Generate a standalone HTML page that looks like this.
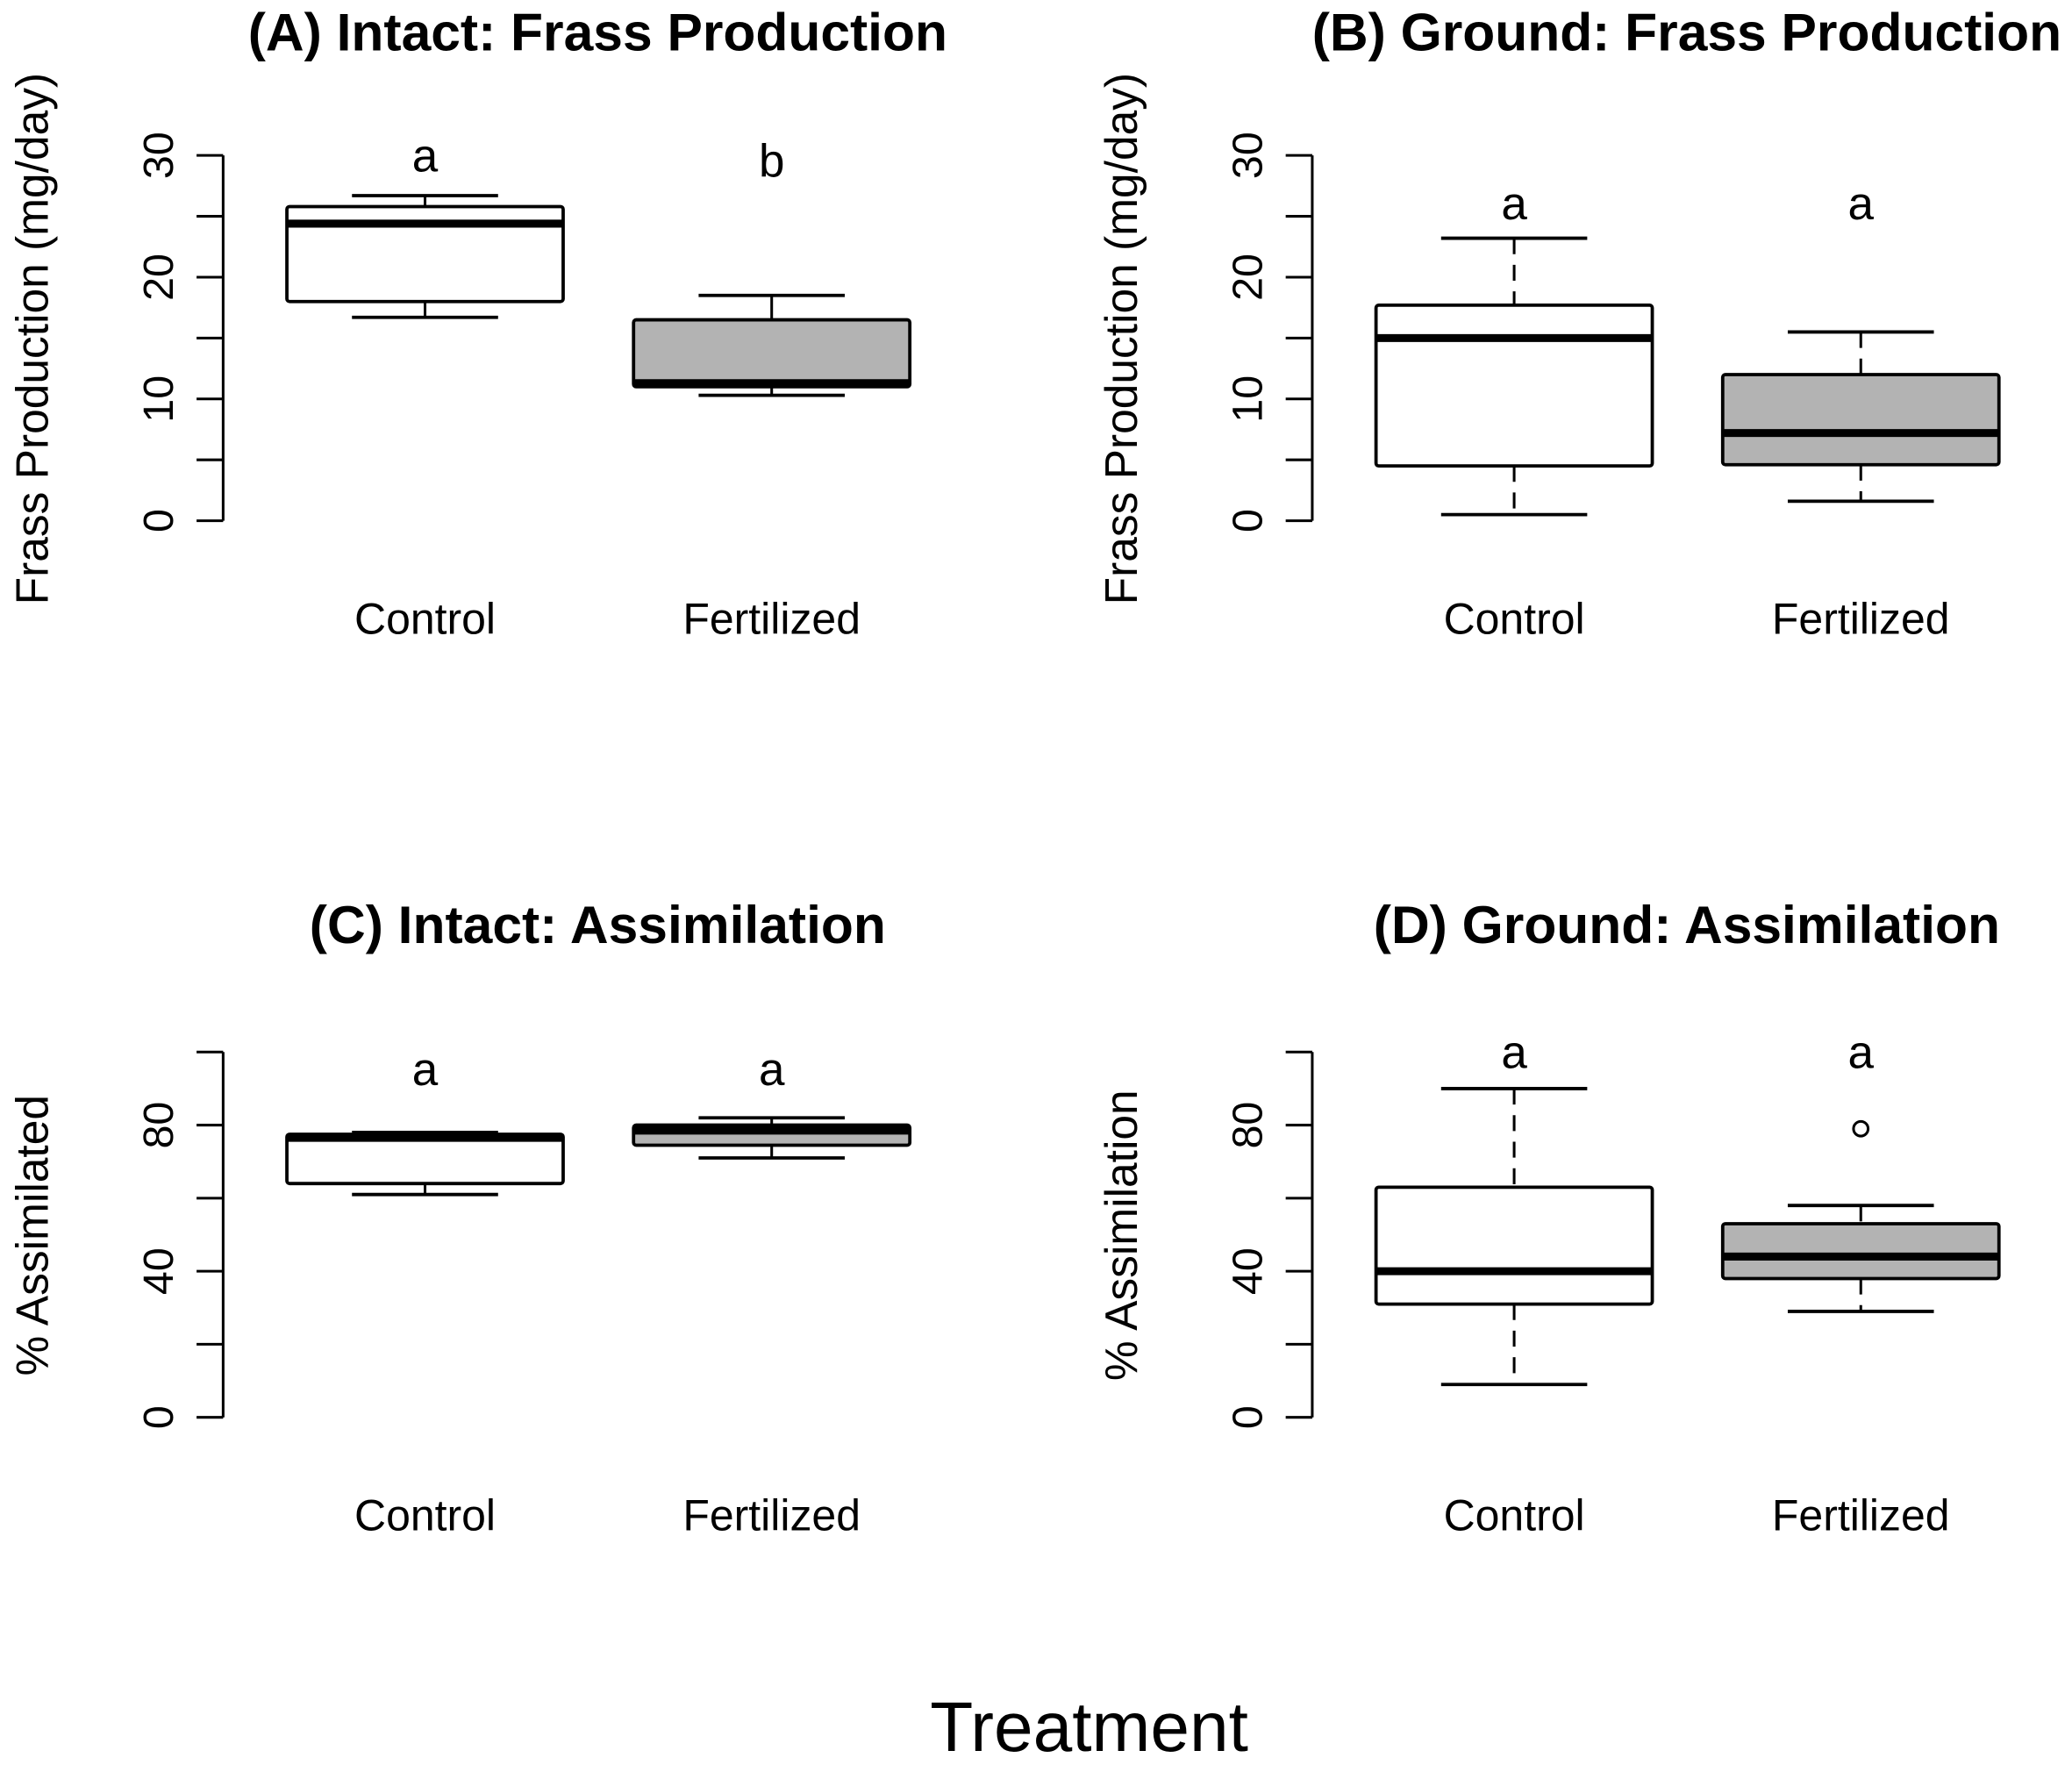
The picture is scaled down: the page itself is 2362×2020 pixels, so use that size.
<!DOCTYPE html>
<html><head><meta charset="utf-8">
<style>
html,body{margin:0;padding:0;background:#fff;}
svg{display:block;}
text{font-family:"Liberation Sans",sans-serif;fill:#000;}
</style></head>
<body>
<svg id="chart" width="2362" height="2020" viewBox="0 0 1560 1334" preserveAspectRatio="none" xmlns="http://www.w3.org/2000/svg">
<rect width="1560" height="1334" fill="#fff"/>
<text x="820" y="1318" font-size="53" text-anchor="middle">Treatment</text>
</svg>
<script>
const categories = ["Control", "Fertilized"];
const panelTitles = ["(A) Intact: Frass Production", "(B) Ground: Frass Production", "(C) Intact: Assimilation", "(D) Ground: Assimilation"];
const yTitles = ["Frass Production  (mg/day)", "Frass Production  (mg/day)", "% Assimilated", "% Assimilation"];
// [low whisker, Q1, median, Q3, high whisker] per category
const statsA = [[16.7, 18, 24.4, 25.8, 26.7], [10.3, 11, 11.3, 16.5, 18.5]];
const statsB = [[0.5, 4.5, 15, 17.7, 23.2], [1.6, 4.6, 7.2, 12, 15.5]];
const statsC = [[61, 64, 76.5, 77.5, 78], [71, 74.5, 78.5, 80, 82]];
const statsD = [[9, 31, 40, 63, 90], [29, 38, 44, 53, 58]];
const outliersD = [[], [79]];
const lettersA = ["a", "b"];
const lettersB = ["a", "a"];
const lettersC = ["a", "a"];
const lettersD = ["a", "a"];
const ticksFrass = [0, 5, 10, 15, 20, 25, 30];
const labelsFrass = [0, 10, 20, 30];
const ticksAssim = [0, 20, 40, 60, 80, 100];
const labelsAssim = [0, 40, 80];

const NS = "http://www.w3.org/2000/svg";
const svg = document.getElementById("chart");
function mk(tag, attrs, parent) {
  const e = document.createElementNS(NS, tag);
  for (const k in attrs) e.setAttribute(k, attrs[k]);
  (parent || svg).appendChild(e);
  return e;
}
const panels = [
  {ax: 168, y0: 392, ytop: 117, max: 30, stats: statsA, letters: lettersA, ticks: ticksFrass, labels: labelsFrass, titleY: 38, letterY: [129, 133], dashed: false, out: [[], []], xlabY: 477, ylabY: 255},
  {ax: 988, y0: 392, ytop: 117, max: 30, stats: statsB, letters: lettersB, ticks: ticksFrass, labels: labelsFrass, titleY: 38, letterY: [165, 165], dashed: true, out: [[], []], xlabY: 477, ylabY: 255},
  {ax: 168, y0: 1067, ytop: 792, max: 100, stats: statsC, letters: lettersC, ticks: ticksAssim, labels: labelsAssim, titleY: 710, letterY: [817, 817], dashed: false, out: [[], []], xlabY: 1152, ylabY: 930},
  {ax: 988, y0: 1067, ytop: 792, max: 100, stats: statsD, letters: lettersD, ticks: ticksAssim, labels: labelsAssim, titleY: 710, letterY: [804, 804], dashed: true, out: outliersD, xlabY: 1152, ylabY: 930}
];
panels.forEach((p, i) => {
  const g = mk("g", {});
  
  
  const y = v => p.y0 - (v / p.max) * (p.y0 - p.ytop);
  const cx = [p.ax + 152, p.ax + 413];
  const t = mk("text", {x: p.ax + 282, y: p.titleY, "font-size": 40, "font-weight": "bold", "text-anchor": "middle"}, g);
  t.textContent = panelTitles[i];
  
  
  const yt = mk("text", {x: 0, y: 0, "font-size": 34, "text-anchor": "middle", transform: `translate(${p.ax - 132},${p.ylabY}) rotate(-90)`}, g);
  yt.textContent = yTitles[i];
  
  
  const axis = mk("line", {x1: p.ax, x2: p.ax, y1: y(0), y2: y(p.max), stroke: "#000", "stroke-width": 2}, g);
  
  
  p.ticks.forEach(v => {
    const tk = mk("line", {x1: p.ax - 20, x2: p.ax, y1: y(v), y2: y(v), stroke: "#000", "stroke-width": 2}, g);
    
    
  });
  p.labels.forEach(v => {
    const tl = mk("text", {x: 0, y: 0, "font-size": 32, "text-anchor": "middle", transform: `translate(${p.ax - 38},${y(v)}) rotate(-90)`}, g);
    tl.textContent = v;
    
    
  });
  p.stats.forEach((s, j) => {
    const c = cx[j];
    const bg = mk("g", {}, g);
    
    
    const dash = p.dashed ? {"stroke-dasharray": "12,8"} : {};
    const w1 = mk("line", Object.assign({x1: c, x2: c, y1: y(s[4]), y2: y(s[3]), stroke: "#000", "stroke-width": 2}, dash), bg);
    
    
    const w2 = mk("line", Object.assign({x1: c, x2: c, y1: y(s[1]), y2: y(s[0]), stroke: "#000", "stroke-width": 2}, dash), bg);
    
    
    [s[0], s[4]].forEach(v => {
      const cap = mk("line", {x1: c - 55, x2: c + 55, y1: y(v), y2: y(v), stroke: "#000", "stroke-width": 2.5}, bg);
      
      
    });
    const r = mk("rect", {x: c - 104, y: y(s[3]), width: 208, height: y(s[1]) - y(s[3]), fill: j ? "#b3b3b3" : "#fff", stroke: "#000", "stroke-width": 2.5, rx: 2}, bg);
    
    
    const m = mk("line", {x1: c - 104, x2: c + 104, y1: y(s[2]), y2: y(s[2]), stroke: "#000", "stroke-width": 6}, bg);
    
    
    p.out[j].forEach(v => {
      const o = mk("circle", {cx: c, cy: y(v), r: 5.5, fill: "none", stroke: "#000", "stroke-width": 2}, bg);
      
      
    });
    const l = mk("text", {x: c, y: p.letterY[j], "font-size": 35, "text-anchor": "middle"}, g);
    l.textContent = p.letters[j];
    
    
    const xl = mk("text", {x: c, y: p.xlabY, "font-size": 33, "text-anchor": "middle"}, g);
    xl.textContent = categories[j];
    
    
  });
});
</script>
</body></html>
